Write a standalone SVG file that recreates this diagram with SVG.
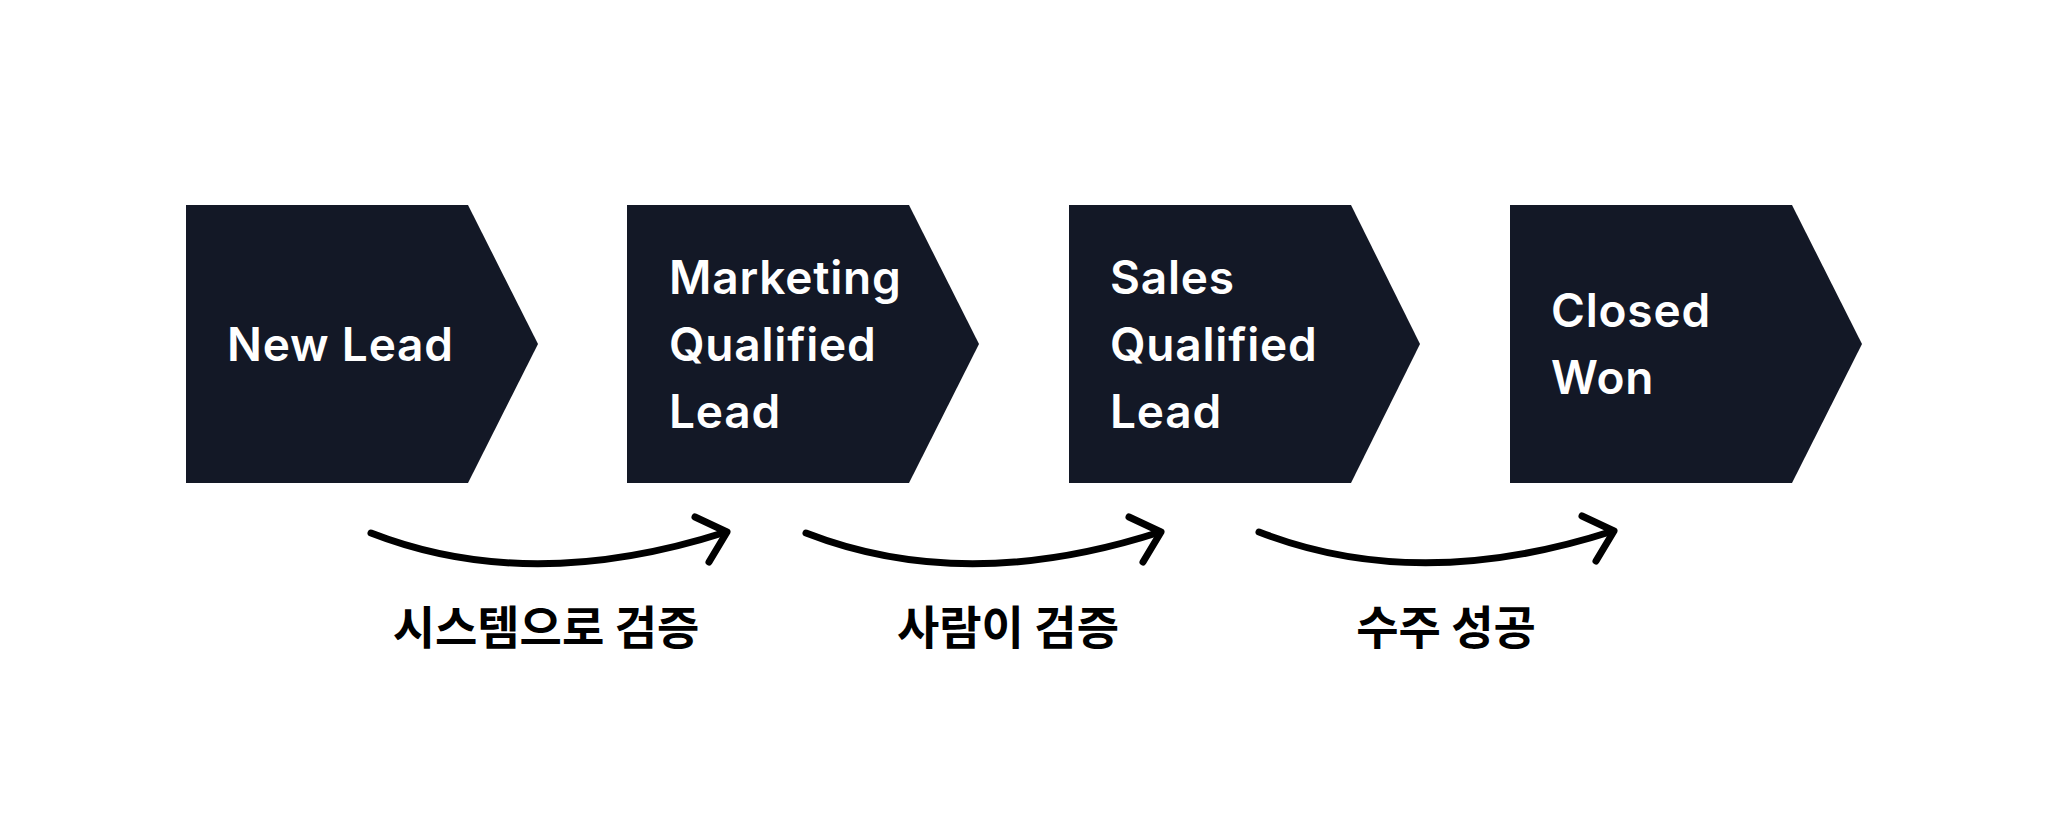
<svg xmlns="http://www.w3.org/2000/svg" width="2048" height="826" viewBox="0 0 2048 826">
<defs>
<style>
.stage{fill:#131826;}
.lbl{font-family:Inter,"Noto Sans",sans-serif;font-weight:600;font-size:46px;letter-spacing:0.8px;fill:#ffffff;}
.edge{fill:none;stroke:#000000;stroke-width:7;stroke-linecap:round;stroke-linejoin:round;}
.elbl{font-family:"Noto Sans CJK KR","Noto Sans",sans-serif;font-weight:700;font-size:46px;fill:#000000;text-anchor:middle;}
</style>
</defs>
<rect width="2048" height="826" fill="#ffffff"/>
<g id="node-new-lead">
<polygon class="stage" points="186,205 468,205 538,344 468,483 186,483"/>
<text class="lbl" x="227" y="361">New Lead</text>
</g>
<g id="node-mql">
<polygon class="stage" points="627,205 909,205 979,344 909,483 627,483"/>
<text class="lbl" x="669" y="294">Marketing</text>
<text class="lbl" x="669" y="361">Qualified</text>
<text class="lbl" x="669" y="428">Lead</text>
</g>
<g id="node-sql">
<polygon class="stage" points="1069,205 1351,205 1420,344 1351,483 1069,483"/>
<text class="lbl" x="1110" y="294">Sales</text>
<text class="lbl" x="1110" y="361">Qualified</text>
<text class="lbl" x="1110" y="428">Lead</text>
</g>
<g id="node-closed-won">
<polygon class="stage" points="1510,205 1792,205 1862,344 1792,483 1510,483"/>
<text class="lbl" x="1551" y="327">Closed</text>
<text class="lbl" x="1551" y="394">Won</text>
</g>
<g id="connectors">
<path class="edge" d="M371,533 Q530,595 726,532"/>
<path class="edge" d="M695,517 L727,532 L709,562"/>
<path class="edge" d="M806,533 Q965,595 1160,532"/>
<path class="edge" d="M1129,517 L1161,532 L1143,562"/>
<path class="edge" d="M1259,532 Q1418,594 1613,531"/>
<path class="edge" d="M1582,516 L1614,531 L1596,561"/>
<text class="elbl" x="546" y="644">시스템으로 검증</text>
<text class="elbl" x="1008" y="644">사람이 검증</text>
<text class="elbl" x="1446" y="644">수주 성공</text>
</g>
</svg>
